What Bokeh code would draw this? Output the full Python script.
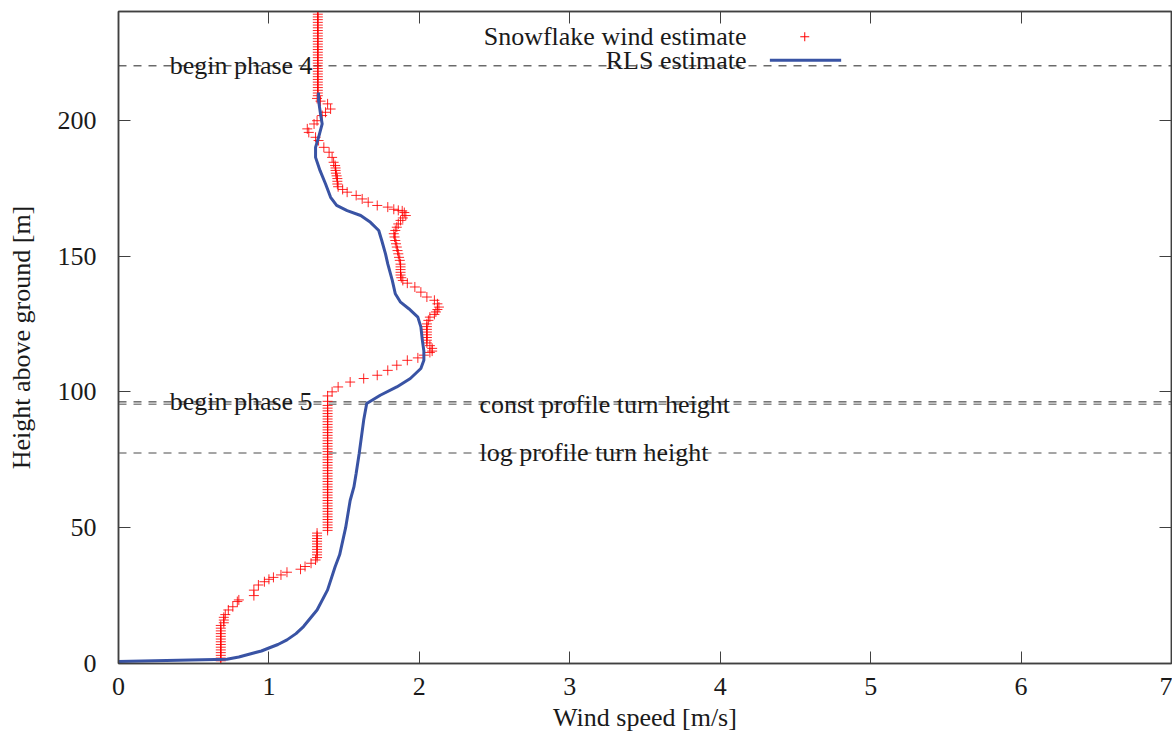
from bokeh.plotting import figure
from bokeh.models import Range1d, FixedTicker, LinearAxis, Span, Label
from bokeh.embed import file_html
from bokeh.resources import INLINE

# ---- data ----
snow_height = [1, 2, 3, 4, 5, 6, 7, 8, 9, 10, 11, 12, 13, 14,
               15, 16, 17, 18, 19.7, 20.9, 22.8, 23.4, 25, 27, 28.9, 30.1, 31, 31.7, 32.6, 33.6,
               34.7, 35.7, 36.9, 38.1,
               39, 40, 41, 42, 43, 44, 45, 46, 47, 48,
               49, 50, 51, 52, 53, 54, 55, 56, 57, 58, 59, 60, 61, 62, 63, 64, 65, 66, 67, 68,
               69, 70, 71, 72, 73, 74, 75, 76, 77, 78, 79, 80, 81, 82, 83, 84, 85, 86, 87, 88,
               89, 90, 91, 92, 93, 94, 95,
               96.5, 98.5, 100, 101.8, 103.6, 104.9, 106.1, 107.9, 109.8, 111.6,
               112.5, 113.5, 114.5, 115, 116, 117, 118, 119, 120, 121, 122, 123, 124,
               125, 126.3, 127.5, 128.5, 129.4, 130.3, 131.2, 132.4, 133.7, 134.9, 136.7, 138.6,
               140, 141, 142, 143, 144, 145, 146, 147, 148.4, 149.5, 150.8, 152, 153.3, 154.5,
               155.7, 157, 158.2, 159.4, 160.6, 161.8, 163.1, 164, 164.9, 166, 166.6, 166.8,
               167.2, 168.0, 168.6, 169.8, 171.0, 172.3, 173.5,
               174.5, 175.5, 176.5, 177.5, 178.5, 179.5, 180.5, 181.5, 182.4, 183.3, 184.5,
               186.3, 188.2, 190, 192.5, 193.7, 195.5, 196.8, 198.6, 199.8, 201.7, 202.9,
               204.1, 206,
               207, 208, 209, 210, 211, 212, 213, 214, 215, 216, 217, 218, 219, 220, 221, 222,
               223, 224, 225, 226, 227, 228, 229, 230, 231, 232, 233, 234, 235, 236, 237, 238,
               239, 240]
snow_speed = [0.68, 0.68, 0.68, 0.68, 0.68, 0.68, 0.68, 0.68, 0.68, 0.68, 0.68, 0.68, 0.68, 0.68,
              0.70, 0.70, 0.70, 0.71, 0.73, 0.76, 0.79, 0.80, 0.90, 0.90, 0.93, 0.97, 1.00, 1.03, 1.08, 1.12,
              1.21, 1.24, 1.28, 1.31,
              1.32, 1.32, 1.32, 1.32, 1.32, 1.32, 1.32, 1.32, 1.32, 1.32,
              1.39, 1.39, 1.39, 1.39, 1.39, 1.39, 1.39, 1.39, 1.39, 1.39, 1.39, 1.39, 1.39, 1.39,
              1.39, 1.39, 1.39, 1.39, 1.39, 1.39, 1.39, 1.39, 1.39, 1.39, 1.39, 1.39, 1.39, 1.39,
              1.39, 1.39, 1.39, 1.39, 1.39, 1.39, 1.39, 1.39, 1.39, 1.39, 1.39, 1.39, 1.39, 1.39,
              1.39, 1.39, 1.39, 1.39, 1.39, 1.39, 1.39,
              1.42, 1.46, 1.54, 1.63, 1.72, 1.79, 1.85, 1.92, 1.99, 2.03,
              2.07, 2.085, 2.085, 2.07, 2.05, 2.05, 2.05, 2.05, 2.05, 2.05, 2.05, 2.05, 2.06,
              2.07, 2.10, 2.11, 2.12, 2.13, 2.12, 2.10, 2.05, 2.01, 1.97, 1.92, 1.89,
              1.88, 1.875, 1.875, 1.875, 1.875, 1.875, 1.87, 1.865, 1.86, 1.855, 1.85, 1.845, 1.84, 1.835,
              1.83, 1.84, 1.85, 1.86, 1.875, 1.89, 1.91, 1.90, 1.886, 1.86, 1.83, 1.79,
              1.72, 1.66, 1.62, 1.58, 1.52, 1.49, 1.46,
              1.455, 1.455, 1.455, 1.45, 1.445, 1.443, 1.443, 1.44, 1.43, 1.42, 1.40,
              1.365, 1.33, 1.31, 1.265, 1.255, 1.30, 1.32, 1.354, 1.376, 1.41, 1.39,
              1.343, 1.32,
              1.325, 1.325, 1.325, 1.325, 1.325, 1.325, 1.325, 1.325, 1.325, 1.325, 1.325, 1.325,
              1.325, 1.325, 1.325, 1.325, 1.325, 1.325, 1.325, 1.325, 1.325, 1.325, 1.325, 1.325,
              1.325, 1.325, 1.325, 1.325, 1.325, 1.325, 1.325, 1.325, 1.325, 1.325]

rls_speed = [0.0, 0.72, 0.80, 0.88, 0.95, 1.00, 1.06, 1.12, 1.18, 1.23, 1.32, 1.39, 1.44,
             1.47, 1.51, 1.54, 1.565, 1.58, 1.60, 1.63, 1.65, 1.74, 1.85, 1.94, 2.01, 2.03,
             2.03, 2.02, 2.01, 1.99, 1.93,
             1.875, 1.84, 1.82, 1.79, 1.775, 1.75, 1.73, 1.675, 1.61, 1.52, 1.45, 1.41,
             1.376, 1.34, 1.31, 1.31, 1.33, 1.354, 1.343, 1.33, 1.33]
rls_height = [0.7, 1.6, 2.4, 3.6, 4.6, 5.7, 7.0, 8.7, 11.0, 13.6, 19.7, 27.1, 35.6,
              40.0, 50.0, 60.0, 65.0, 70.0, 77.3, 89.6, 95.7, 98.75, 101.8, 104.9, 108.6, 111.6,
              115.0, 119.0, 123.9, 127.5, 130.6,
              133.0, 136.1, 141.0, 147.1, 150.8, 155.7, 159.4, 162.4, 164.9, 166.7, 168.6, 171.6,
              176.6, 181.4, 186.3, 190.0, 193.7, 198.6, 202.3, 207.2, 210.2]

marker_heights = [220.0, 96.3, 95.4, 77.5]
marker_texts = ["begin phase 4", "begin phase 5", "const profile turn height", "log profile turn height"]
marker_text_x = [0.34, 0.34, 2.40, 2.40]
marker_colors = ["#222222", "#222222", "#888888", "#888888"]
marker_widths = [1, 1, 1.5, 1.5]

x_ticks = [0, 1, 2, 3, 4, 5, 6, 7]
y_ticks = [0, 50, 100, 150, 200]

series_labels = ["Snowflake wind estimate", "RLS estimate"]
x_title = "Wind speed [m/s]"
y_title = "Height above ground [m]"

FONT = "Liberation Serif"
TXT = "#1a1a1a"
FRAME = "#404040"
RED = "#ff0000"
BLUE = "#3953a4"

p = figure(width=1172, height=734, output_backend="svg", toolbar_location=None,
           x_range=Range1d(0, 7), y_range=Range1d(0, 240),
           min_border_left=118, min_border_right=1, min_border_top=11, min_border_bottom=70,
           background_fill_color="white", border_fill_color="white")
p.grid.visible = False
p.outline_line_color = FRAME
p.outline_line_width = 1.5

def style_axis(ax, ticks, labels=True):
    ax.ticker = FixedTicker(ticks=ticks)
    ax.major_tick_in = 12
    ax.major_tick_out = 0
    ax.minor_tick_line_color = None
    ax.axis_line_color = FRAME
    ax.axis_line_width = 1.5
    ax.major_tick_line_color = FRAME
    ax.major_tick_line_width = 1
    if labels:
        ax.major_label_text_font = FONT
        ax.major_label_text_font_size = "26px"
        ax.major_label_text_color = TXT
        ax.axis_label_text_font = FONT
        ax.axis_label_text_font_size = "26px"
        ax.axis_label_text_color = TXT
        ax.axis_label_text_font_style = "normal"
    else:
        ax.major_label_overrides = {t: "" for t in ticks}
        ax.major_label_text_font_size = "1px"
        ax.major_label_standoff = 0

style_axis(p.xaxis[0], x_ticks)
style_axis(p.yaxis[0], y_ticks)
p.xaxis.axis_label = x_title
p.xaxis.major_label_standoff = 14
p.xaxis.axis_label_standoff = 5
p.yaxis.axis_label = y_title
p.yaxis.major_label_standoff = 22
p.yaxis.axis_label_standoff = 19

top = LinearAxis()
style_axis(top, x_ticks, labels=False)
p.add_layout(top, "above")
right = LinearAxis()
style_axis(right, y_ticks, labels=False)
p.add_layout(right, "right")

# dashed reference lines
for h, c, w in zip(marker_heights, marker_colors, marker_widths):
    p.add_layout(Span(location=h, dimension="width", line_color=c, line_width=w,
                      line_dash="8 7", level="underlay"))

# data
p.scatter(snow_speed, snow_height, marker="cross", size=10, line_color=RED,
          line_width=1, line_alpha=0.85)
p.line(rls_speed, rls_height, line_color=BLUE, line_width=3)

for tx, h, t in zip(marker_text_x, marker_heights, marker_texts):
    p.add_layout(Label(x=tx, y=h, text=t, text_font=FONT, text_font_size="26px",
                       text_color=TXT, text_align="left", text_baseline="middle"))

# key (gnuplot style: text left, sample right)
p.add_layout(Label(x=4.175, y=230.7, text=series_labels[0], text_font=FONT,
                   text_font_size="26px", text_color=TXT, text_align="right",
                   text_baseline="middle"))
p.add_layout(Label(x=4.175, y=222.1, text=series_labels[1], text_font=FONT,
                   text_font_size="26px", text_color=TXT, text_align="right",
                   text_baseline="middle"))
p.scatter([4.562], [230.7], marker="cross", size=9, line_color=RED, line_width=1)
p.line([4.33, 4.804], [222.1, 222.1], line_color=BLUE, line_width=3)

open("out.html", "w").write(file_html(p, INLINE))
